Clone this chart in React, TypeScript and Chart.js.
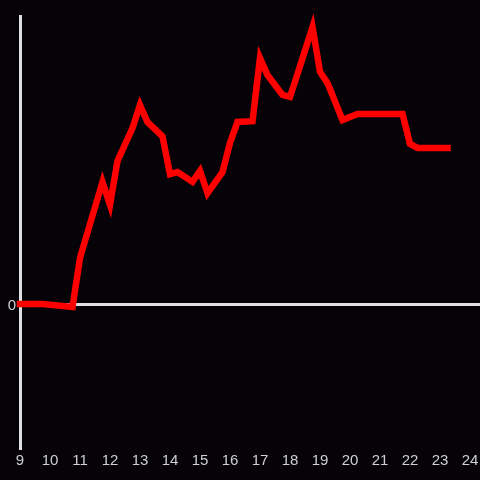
import React, { useEffect, useRef } from "react";
import { Chart, registerables } from "chart.js";

Chart.register(...registerables);

// hours of day (x) and values (y)
const hours = [
  9.0, 9.75, 10.75, 11.0, 11.75, 12.0, 12.25, 12.75, 13.0, 13.25, 13.75, 14.0,
  14.25, 14.75, 15.0, 15.25, 15.75, 16.0, 16.25, 16.75, 17.0, 17.25, 17.75, 18.0,
  18.25, 18.75, 19.0, 19.25, 19.75, 20.25, 21.75, 22.0, 22.25, 23.25,
];
const values = [
  0, 0, -1.0, 16.0, 42.4, 34.4, 49.7, 61.1, 69.1, 63.2, 58.2, 45.1,
  45.8, 42.4, 46.2, 38.5, 45.8, 55.9, 63.2, 63.5, 85.4, 79.5, 72.6, 71.9,
  79.9, 96.2, 80.6, 76.7, 63.9, 66.0, 66.0, 55.6, 54.2, 54.2,
];
const xTickLabels = [9, 10, 11, 12, 13, 14, 15, 16, 17, 18, 19, 20, 21, 22, 23, 24];
const yTickLabels = [0];

const AXIS = "#e0e0e0";
const TEXT = "#d0d0d0";
const FONT = { family: "'Liberation Sans', Arial, sans-serif", size: 15 };

export default function App() {
  const ref = useRef<HTMLCanvasElement | null>(null);
  useEffect(() => {
    if (!ref.current) return;
    const chart = new Chart(ref.current, {
      type: "line",
      data: {
        datasets: [
          {
            data: hours.map((h, i) => ({ x: h, y: values[i] })),
            borderColor: "#ff0000",
            borderWidth: 6.5,
            borderCapStyle: "square",
            pointRadius: 0,
            tension: 0,
            fill: false,
            clip: false as any,
          },
        ],
      },
      options: {
        animation: false,
        responsive: false,
        layout: { padding: { top: 16, right: 0, left: 0, bottom: 0 } },
        plugins: { legend: { display: false }, tooltip: { enabled: false } },
        scales: {
          x: {
            type: "linear",
            min: 9,
            max: 9 + 460 / 30,
            afterBuildTicks: (s: any) => {
              s.ticks = xTickLabels.map((v) => ({ value: v }));
            },
            afterFit: (s: any) => {
              s.height = 32;
              s.paddingLeft = 0;
              s.paddingRight = 0;
            },
            grid: { display: false, drawTicks: false },
            border: { display: false },
            ticks: {
              color: TEXT,
              font: FONT,
              padding: 4,
              maxRotation: 0,
              autoSkip: false,
              callback: (v: any) => String(v),
            },
          },
          y: {
            type: "linear",
            min: -50,
            max: 100,
            afterBuildTicks: (s: any) => {
              s.ticks = yTickLabels.map((v) => ({ value: v }));
            },
            afterFit: (s: any) => {
              s.width = 20;
              s.paddingTop = 0;
              s.paddingBottom = 0;
            },
            grid: { color: AXIS, lineWidth: 3, drawTicks: false },
            border: { display: true, color: AXIS, width: 3 },
            ticks: {
              color: TEXT,
              font: FONT,
              padding: 4,
              labelOffset: 2,
              callback: (v: any) => String(v),
            },
          },
        },
      },
    });
    return () => chart.destroy();
  }, []);
  return (
    <div
      style={{
        position: "absolute",
        left: 0,
        top: 0,
        width: 480,
        height: 480,
        background: "#050307",
      }}
    >
      <canvas ref={ref} width={480} height={480} />
    </div>
  );
}
